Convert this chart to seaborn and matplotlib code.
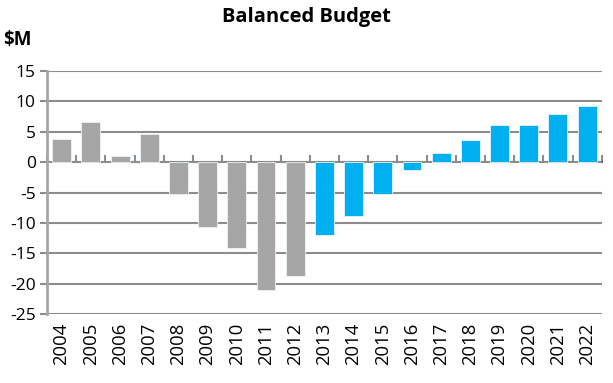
import matplotlib
matplotlib.use("Agg")
import matplotlib.pyplot as plt
import seaborn as sns
import pandas as pd

years = [str(y) for y in range(2004, 2023)]
balance = [3.8, 6.6, 1.0, 4.6, -5.3, -10.6, -14.1, -21.1, -18.7,
           -12.0, -8.9, -5.2, -1.3, 1.5, 3.6, 6.1, 6.1, 8.0, 9.3]
period = ["Actual"] * 9 + ["Plan"] * 10
palette = {"Actual": "#A6A6A6", "Plan": "#00B0F0"}
yticks = [15, 10, 5, 0, -5, -10, -15, -20, -25]

df = pd.DataFrame({"Year": years, "Balance": balance, "Period": period})

sns.set_theme(style="white")
plt.rcParams["font.family"] = ["Open Sans", "DejaVu Sans"]

fig = plt.figure(figsize=(6.13, 3.83), dpi=100)
ax = fig.add_axes([0.0767, 0.180, 0.905, 0.6346])

sns.barplot(data=df, x="Year", y="Balance", hue="Period", palette=palette,
            dodge=False, width=0.65, saturation=1, legend=False, ax=ax,
            edgecolor="#E8F4FA", linewidth=0.6, zorder=3)

grid_color = "#8C8C8C"
ax.set_ylim(-25, 15)
ax.set_xlim(-0.5, len(years) - 0.5)
ax.set_yticks(yticks)
ax.set_yticklabels([str(v) for v in yticks], fontsize=12.5, color="black")
ax.grid(axis="y", color=grid_color, linewidth=1.5, zorder=0)
ax.tick_params(axis="y", length=5, width=1.5, color=grid_color, pad=3, left=True)
ax.tick_params(axis="x", length=0, pad=6, labelsize=13.3, labelcolor="black")
plt.setp(ax.get_xticklabels(), rotation=90)
ax.set_xlabel("")
ax.set_ylabel("")

for side in ["top", "right", "bottom"]:
    ax.spines[side].set_visible(False)
ax.spines["left"].set_color("#A6A6A6")
ax.spines["left"].set_linewidth(2)

# category axis drawn along the zero line, with ticks between categories
zero_frac = (0 - (-25)) / (15 - (-25))
cat_axis = ax.secondary_xaxis(zero_frac)
cat_axis.set_xticks([i - 0.5 for i in range(len(years) + 1)])
cat_axis.set_xticklabels([])
cat_axis.tick_params(length=5, width=1.5, color=grid_color, direction="out")
cat_axis.spines["bottom"].set_color(grid_color)
cat_axis.spines["bottom"].set_linewidth(1.5)
cat_axis.spines["bottom"].set_zorder(4)

fig.text(0.5, 0.955, "Balanced Budget", ha="center", va="center",
         fontsize=14.5, fontweight="bold", color="black")
fig.text(0.005, 0.895, "$M", ha="left", va="center",
         fontsize=13.5, fontweight="bold", color="black")

fig.savefig("out.png", dpi=100, facecolor="white")
